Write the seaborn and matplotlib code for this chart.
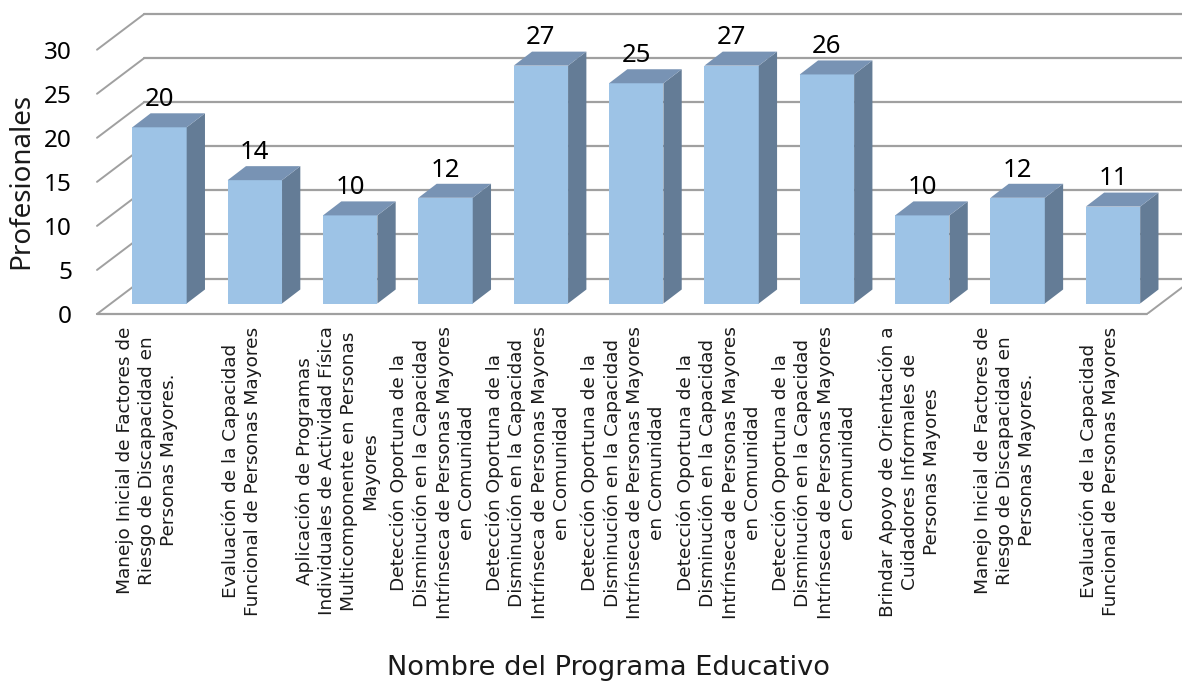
import matplotlib
matplotlib.use("Agg")
import matplotlib.pyplot as plt
from matplotlib.patches import Polygon
import seaborn as sns
import numpy as np

programas = [
    "Manejo Inicial de Factores de\nRiesgo de Discapacidad en\nPersonas Mayores.",
    "Evaluación de la Capacidad\nFuncional de Personas Mayores",
    "Aplicación de Programas\nIndividuales de Actividad Física\nMulticomponente en Personas\nMayores",
    "Detección Oportuna de la\nDisminución en la Capacidad\nIntrínseca de Personas Mayores\nen Comunidad",
    "Detección Oportuna de la\nDisminución en la Capacidad\nIntrínseca de Personas Mayores\nen Comunidad",
    "Detección Oportuna de la\nDisminución en la Capacidad\nIntrínseca de Personas Mayores\nen Comunidad",
    "Detección Oportuna de la\nDisminución en la Capacidad\nIntrínseca de Personas Mayores\nen Comunidad",
    "Detección Oportuna de la\nDisminución en la Capacidad\nIntrínseca de Personas Mayores\nen Comunidad",
    "Brindar Apoyo de Orientación a\nCuidadores Informales de\nPersonas Mayores",
    "Manejo Inicial de Factores de\nRiesgo de Discapacidad en\nPersonas Mayores.",
    "Evaluación de la Capacidad\nFuncional de Personas Mayores",
]
profesionales = [20, 14, 10, 12, 27, 25, 27, 26, 10, 12, 11]
y_ticks = [0, 5, 10, 15, 20, 25, 30]

# pixel scale of the picture
PX_X = 95.35
PX_Y = 8.81

# depth of the fake 3d box, in data units
FLOOR_Y = -10.5 / PX_Y
WALL_DX = 47 / PX_X
WALL_DY = 35.5 / PX_Y
BAR_DX = 18.3 / PX_X
BAR_DY = 14 / PX_Y
LEFT_X = (97 - 159.5) / PX_X
RIGHT_X = (1147 - 159.5) / PX_X
LABEL_SHIFT = 12.8 / PX_X

GRID = "#a0a0a0"
FRONT = "#9dc3e6"
SIDE = "#647c96"
TOP = "#7893b4"
NUM_FONT = "Noto Sans"
TEXT_FONT = "DejaVu Sans"

sns.set_theme(style="white")

W, H = 1182, 682
fig = plt.figure(figsize=(W / 100, H / 100), dpi=100)
ax = fig.add_axes([97 / W, (H - 314) / H, 1085 / W, 304 / H])

sns.barplot(x=np.arange(len(profesionales)), y=profesionales, color=FRONT, saturation=1,
            width=0.57, errorbar=None, ax=ax, zorder=3, linewidth=0)

ax.set_xlim(LEFT_X, (1182 - 159.5) / PX_X)
ax.set_ylim(FLOOR_Y, (303.5 - 10) / PX_Y)

# walls and floor
for v in y_ticks:
    y0 = FLOOR_Y + v
    ax.plot([LEFT_X, LEFT_X + WALL_DX], [y0, y0 + WALL_DY], color=GRID, lw=1.4, zorder=1, clip_on=False)
    ax.plot([LEFT_X + WALL_DX, ax.get_xlim()[1]], [y0 + WALL_DY, y0 + WALL_DY], color=GRID, lw=1.6, zorder=1)
ax.plot([LEFT_X, RIGHT_X], [FLOOR_Y, FLOOR_Y], color=GRID, lw=1.6, zorder=1, clip_on=False)
ax.plot([RIGHT_X, RIGHT_X + WALL_DX], [FLOOR_Y, FLOOR_Y + WALL_DY], color=GRID, lw=1.4, zorder=1)

# side and top faces of each bar
for bar in ax.patches[:len(profesionales)]:
    x0, x1 = bar.get_x(), bar.get_x() + bar.get_width()
    h = bar.get_height()
    ax.add_patch(Polygon([(x1, 0), (x1 + BAR_DX, BAR_DY), (x1 + BAR_DX, h + BAR_DY), (x1, h)],
                         facecolor=SIDE, edgecolor="none", zorder=3))
    ax.add_patch(Polygon([(x0, h), (x0 + BAR_DX, h + BAR_DY), (x1 + BAR_DX, h + BAR_DY), (x1, h)],
                         facecolor=TOP, edgecolor="none", zorder=3))

ax.bar_label(ax.containers[0], padding=11, fontsize=18.5, family=NUM_FONT, color="black", zorder=5)

ax.set_yticks([v + FLOOR_Y for v in y_ticks])
ax.set_yticklabels([str(v) for v in y_ticks], fontsize=17.5, family=NUM_FONT, color="black")
ax.tick_params(axis="y", length=0, pad=18)

ax.set_xticks(np.arange(len(programas)) - LABEL_SHIFT)
ax.set_xticklabels(programas, rotation=90, fontsize=13.3, family=TEXT_FONT, color="#1a1a1a",
                   ha="center", va="top", multialignment="center", linespacing=1.28)
ax.tick_params(axis="x", length=0, pad=9)

ax.set_ylabel("Profesionales", fontsize=20, family=NUM_FONT, color="#1a1a1a", va="center")
ax.yaxis.set_label_coords((21 - 97) / 1085, 0.4375)
ax.set_xlabel("Nombre del Programa Educativo", fontsize=19.6, family=TEXT_FONT, color="#1a1a1a", va="center")
ax.xaxis.set_label_coords(0.471, (314 - 668) / 304)

sns.despine(ax=ax, left=True, bottom=True)
ax.patch.set_alpha(0)

fig.savefig("out.png", dpi=100)
